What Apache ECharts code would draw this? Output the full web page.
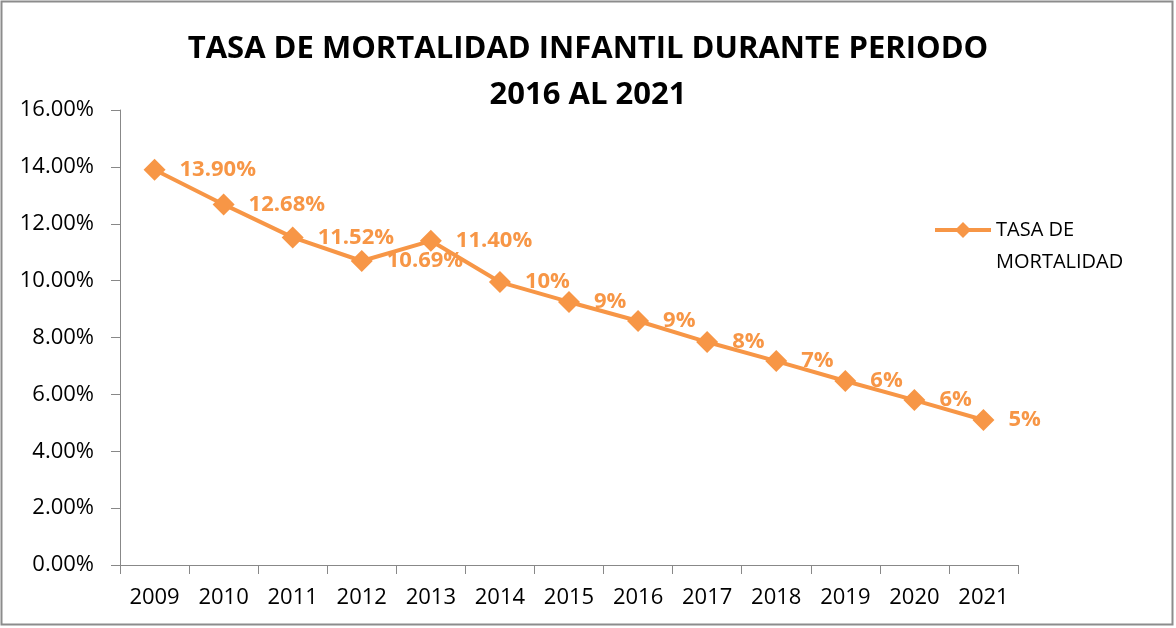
<!DOCTYPE html>
<html lang="es">
<head>
<meta charset="utf-8">
<title>Tasa de mortalidad infantil</title>
<script src="https://cdn.jsdelivr.net/npm/echarts@6/dist/echarts.min.js"></script>
<style>
    html, body { margin: 0; padding: 0; background: #fff; }
    #chart { width: 1176px; height: 628px; }
</style>
</head>
<body>
<div id="chart"></div>
<script>
    // datos
    var years = ['2009', '2010', '2011', '2012', '2013', '2014', '2015',
        '2016', '2017', '2018', '2019', '2020', '2021'];
    var tasa = [13.90, 12.68, 11.52, 10.69, 11.40, 9.95, 9.25,
        8.58, 7.84, 7.17, 6.47, 5.80, 5.10];
    var etiquetas = ['13.90%', '12.68%', '11.52%', '10.69%', '11.40%', '10%', '9%',
        '9%', '8%', '7%', '6%', '6%', '5%'];

    var naranja = '#F79646';
    var fuente = '"Open Sans", "Noto Sans", sans-serif';

    var myChart = echarts.init(document.getElementById('chart'));
    myChart.setOption({
        backgroundColor: '#fff',
        animation: false,
        graphic: [{
            type: 'rect',
            shape: { x: 1.5, y: 1.5, width: 1171, height: 623 },
            style: { fill: 'none', stroke: '#8c8c8c', lineWidth: 2 },
            silent: true
        }],
        title: {
            text: 'TASA DE MORTALIDAD INFANTIL DURANTE PERIODO\n2016 AL 2021',
            left: 'center',
            top: 21,
            textStyle: {
                fontFamily: fuente,
                fontSize: 31,
                fontWeight: 'bold',
                color: '#000',
                lineHeight: 46
            }
        },
        legend: {
            orient: 'vertical',
            left: 928,
            top: 177,
            itemWidth: 56,
            itemHeight: 20,
            data: ['TASA DE\nMORTALIDAD'],
            lineStyle: { width: 4 },
            // línea en blanco delante para que el icono quede junto a la primera línea
            formatter: function (name) { return ' \n' + name; },
            textStyle: { fontFamily: fuente, fontSize: 20, color: '#000', lineHeight: 32 }
        },
        grid: { left: 120, top: 110, width: 898, height: 455, containLabel: false },
        xAxis: {
            type: 'category',
            data: years,
            boundaryGap: true,
            axisLine: { lineStyle: { color: '#888', width: 1 } },
            axisTick: { show: true, length: 9, lineStyle: { color: '#888' } },
            axisLabel: { fontFamily: fuente, fontSize: 22, color: '#000', margin: 22 }
        },
        yAxis: {
            type: 'value',
            min: 0,
            max: 16,
            interval: 2,
            axisLine: { show: true, lineStyle: { color: '#888', width: 1 } },
            axisTick: { show: true, length: 9, lineStyle: { color: '#888' } },
            splitLine: { show: false },
            axisLabel: {
                fontFamily: fuente, fontSize: 22, color: '#000', margin: 26,
                formatter: function (v) { return v.toFixed(2) + '%'; }
            }
        },
        series: [{
            name: 'TASA DE\nMORTALIDAD',
            type: 'line',
            data: tasa,
            symbol: 'diamond',
            symbolSize: 22,
            lineStyle: { color: naranja, width: 4 },
            itemStyle: { color: naranja },
            label: {
                show: true,
                position: 'right',
                distance: 14,
                fontFamily: fuente,
                fontSize: 22,
                fontWeight: 'bold',
                color: naranja,
                formatter: function (p) { return etiquetas[p.dataIndex]; }
            }
        }]
    });
</script>
</body>
</html>
